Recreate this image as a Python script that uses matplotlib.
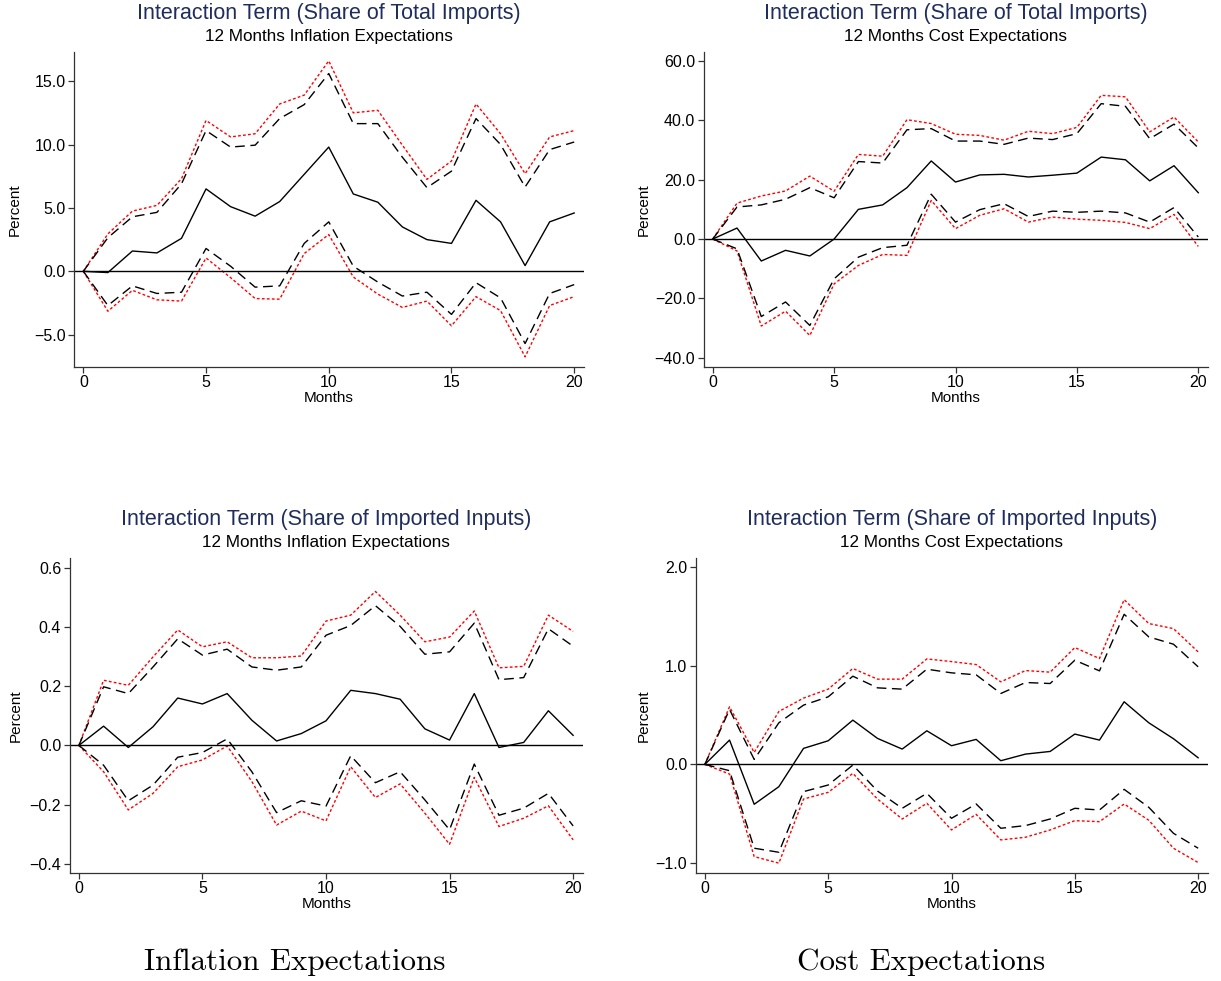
import numpy as np
import matplotlib
matplotlib.use("Agg")
import matplotlib.pyplot as plt

plt.rcParams['font.family'] = ['Liberation Sans', 'DejaVu Sans']

months = np.arange(21)

# Panel 1: total imports, inflation expectations
p1_est = [0, -0.1, 1.6, 1.45, 2.6, 6.5, 5.1, 4.35, 5.5, 7.65, 9.8, 6.1, 5.45, 3.5, 2.5, 2.2, 5.6, 3.9, 0.45, 3.9, 4.6]
p1_up = [0, 2.65, 4.3, 4.65, 6.9, 11.1, 9.8, 9.95, 12.05, 13.15, 15.6, 11.65, 11.65, 9.0, 6.6, 7.9, 12.05, 10.0, 6.65, 9.6, 10.2]
p1_lo = [0, -2.7, -1.15, -1.75, -1.65, 1.8, 0.4, -1.25, -1.15, 2.2, 3.9, 0.4, -0.85, -1.95, -1.65, -3.4, -0.9, -2.1, -5.7, -1.75, -1.05]
p1_up2 = [0, 2.95, 4.75, 5.2, 7.3, 11.9, 10.6, 10.85, 13.2, 13.9, 16.6, 12.5, 12.7, 9.95, 7.25, 8.7, 13.2, 10.85, 7.7, 10.6, 11.1]
p1_lo2 = [0, -3.15, -1.5, -2.25, -2.35, 1.05, -0.5, -2.15, -2.2, 1.4, 2.9, -0.45, -1.8, -2.85, -2.35, -4.3, -2.0, -3.1, -6.75, -2.7, -2.0]

# Panel 2: total imports, cost expectations
p2_est = [0, 3.7, -7.4, -3.8, -5.7, 0, 10.0, 11.5, 17.3, 26.3, 19.2, 21.6, 21.8, 20.9, 21.5, 22.2, 27.6, 26.7, 19.6, 24.7, 15.6]
p2_up = [0, 10.8, 11.5, 13.4, 17.3, 13.9, 26.1, 25.6, 36.8, 37.2, 33.0, 33.0, 31.9, 34.0, 33.5, 35.5, 45.6, 44.7, 33.8, 38.7, 30.7]
p2_lo = [0, -3.3, -26.1, -21.2, -29.1, -13.4, -6.1, -2.9, -2.1, 15.1, 5.7, 9.9, 11.9, 7.6, 9.4, 9.0, 9.4, 8.8, 5.7, 10.6, 0.7]
p2_up2 = [0, 12.1, 14.5, 16.2, 21.2, 16.1, 28.5, 27.9, 40.2, 38.9, 35.3, 34.9, 33.3, 36.3, 35.5, 37.6, 48.4, 47.9, 36.1, 41.1, 32.7]
p2_lo2 = [0, -4.0, -29.3, -24.3, -32.5, -15.1, -8.9, -5.2, -5.5, 13.0, 3.5, 8.0, 10.2, 5.7, 7.4, 6.7, 6.3, 5.6, 3.5, 8.3, -2.5]

# Panel 3: imported inputs, inflation expectations
p3_est = [0, 0.065, -0.007, 0.063, 0.16, 0.14, 0.175, 0.085, 0.015, 0.04, 0.083, 0.186, 0.175, 0.156, 0.056, 0.018, 0.175, -0.007, 0.01, 0.117, 0.034]
p3_up = [0, 0.198, 0.175, 0.265, 0.36, 0.305, 0.325, 0.265, 0.254, 0.265, 0.372, 0.405, 0.472, 0.402, 0.308, 0.316, 0.413, 0.222, 0.229, 0.394, 0.335]
p3_lo = [0, -0.067, -0.187, -0.134, -0.04, -0.024, 0.022, -0.089, -0.227, -0.187, -0.205, -0.035, -0.126, -0.089, -0.184, -0.285, -0.063, -0.236, -0.212, -0.162, -0.272]
p3_up2 = [0, 0.22, 0.203, 0.299, 0.39, 0.333, 0.35, 0.296, 0.296, 0.302, 0.42, 0.44, 0.52, 0.44, 0.35, 0.366, 0.454, 0.262, 0.267, 0.44, 0.385]
p3_lo2 = [0, -0.089, -0.218, -0.162, -0.072, -0.049, -0.002, -0.122, -0.269, -0.222, -0.255, -0.072, -0.176, -0.13, -0.229, -0.334, -0.108, -0.274, -0.246, -0.204, -0.319]

# Panel 4: imported inputs, cost expectations
p4_est = [0, 0.246, -0.404, -0.226, 0.162, 0.239, 0.448, 0.263, 0.155, 0.34, 0.189, 0.253, 0.037, 0.104, 0.131, 0.307, 0.246, 0.634, 0.421, 0.26, 0.067]
p4_up = [0, 0.556, 0.05, 0.421, 0.6, 0.684, 0.893, 0.775, 0.762, 0.964, 0.927, 0.907, 0.718, 0.829, 0.819, 1.055, 0.947, 1.52, 1.291, 1.217, 0.988]
p4_lo = [0, -0.064, -0.849, -0.89, -0.276, -0.209, -0.007, -0.27, -0.445, -0.293, -0.546, -0.401, -0.647, -0.62, -0.553, -0.445, -0.462, -0.253, -0.435, -0.698, -0.849]
p4_up2 = [0, 0.583, 0.121, 0.536, 0.671, 0.762, 0.971, 0.863, 0.863, 1.068, 1.041, 1.011, 0.836, 0.95, 0.934, 1.183, 1.072, 1.668, 1.426, 1.375, 1.139]
p4_lo2 = [0, -0.098, -0.934, -1.0, -0.351, -0.283, -0.091, -0.351, -0.553, -0.394, -0.664, -0.506, -0.765, -0.738, -0.664, -0.57, -0.58, -0.401, -0.566, -0.849, -0.994]

titles = ['Interaction Term (Share of Total Imports)', 'Interaction Term (Share of Total Imports)',
          'Interaction Term (Share of Imported Inputs)', 'Interaction Term (Share of Imported Inputs)']
subtitles = ['12 Months Inflation Expectations', '12 Months Cost Expectations',
             '12 Months Inflation Expectations', '12 Months Cost Expectations']
yticks = [[-5, 0, 5, 10, 15], [-40, -20, 0, 20, 40, 60],
          [-0.4, -0.2, 0, 0.2, 0.4, 0.6], [-1, 0, 1, 2]]
ylims = [(-7.55, 17.3), (-43.1, 63.0), (-0.431, 0.633), (-1.10, 2.09)]

panels = [
    (p1_est, p1_up, p1_lo, p1_up2, p1_lo2),
    (p2_est, p2_up, p2_lo, p2_up2, p2_lo2),
    (p3_est, p3_up, p3_lo, p3_up2, p3_lo2),
    (p4_est, p4_up, p4_lo, p4_up2, p4_lo2),
]

# axes boxes in pixels: left, top, right, bottom
W, H = 1221, 981
boxes = [(74, 52, 584, 367), (703.5, 52, 1208, 367),
         (69.5, 558, 583, 873), (695.5, 558, 1208, 873)]
ylab_off = [59, 60, 54, 52]

fmt = matplotlib.ticker.FuncFormatter(lambda v, p: ('%.1f' % v).replace('-', '\u2212'))

fig = plt.figure(figsize=(W / 100, H / 100), dpi=100)
fig.patch.set_facecolor('white')

for i, (est, up, lo, up2, lo2) in enumerate(panels):
    l, t, r, b = boxes[i]
    ax = fig.add_axes([l / W, 1 - b / H, (r - l) / W, (b - t) / H])
    ax.plot(months, up2, color='red', lw=1.0, dashes=(2, 1.6))
    ax.plot(months, lo2, color='red', lw=1.0, dashes=(2, 1.6))
    ax.plot(months, up, color='black', lw=1.0, dashes=(7, 4))
    ax.plot(months, lo, color='black', lw=1.0, dashes=(7, 4))
    ax.plot(months, est, color='black', lw=1.0)
    ax.axhline(0, color='black', lw=1.0)

    ax.set_xlim(-0.38, 20.4)
    ax.set_ylim(*ylims[i])
    ax.set_xticks([0, 5, 10, 15, 20])
    ax.set_yticks(yticks[i])
    ax.yaxis.set_major_formatter(fmt)
    for s in ['top', 'right']:
        ax.spines[s].set_visible(False)
    for s in ['left', 'bottom']:
        ax.spines[s].set_color('#333333')
        ax.spines[s].set_linewidth(0.9)
    ax.tick_params(direction='out', length=4, width=0.9, color='#333333',
                   labelsize=11.5, pad=2)

    h = b - t
    ax.set_xlabel('Months', fontsize=11, va='center')
    ax.xaxis.set_label_coords(0.5, -31 / h)
    ax.set_ylabel('Percent', fontsize=11, va='center')
    ax.yaxis.set_label_coords(-ylab_off[i] / (r - l), 0.5)

    ax.text(0.5, 1 + 39 / h, titles[i], transform=ax.transAxes, ha='center',
            va='center', fontsize=15.5, color='#1f2d5c')
    ax.text(0.5, 1 + 15 / h, subtitles[i], transform=ax.transAxes, ha='center',
            va='center', fontsize=12.3)

fig.text(295 / W, 1 - 962 / H, 'Inflation Expectations', family='cmr10',
         fontsize=22.4, ha='center', va='center')
fig.text(921 / W, 1 - 962 / H, 'Cost Expectations', family='cmr10',
         fontsize=22.4, ha='center', va='center')

fig.savefig('out.png', dpi=100)
